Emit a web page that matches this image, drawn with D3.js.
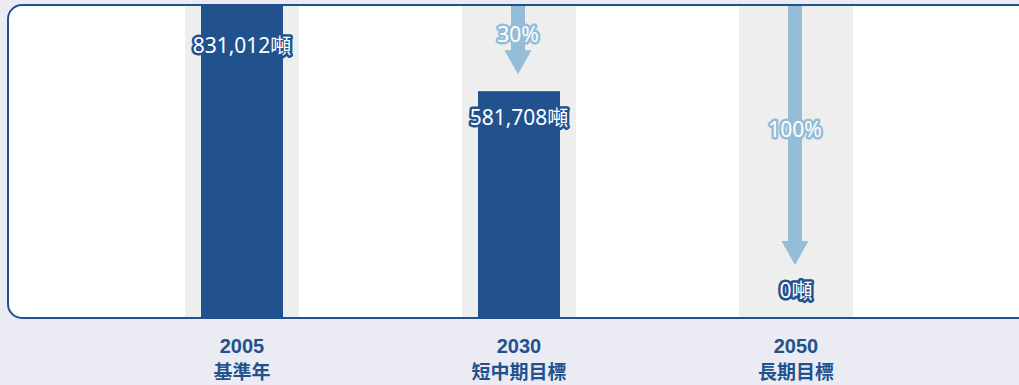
<!DOCTYPE html>
<html>
<head>
<meta charset="utf-8">
<script src="https://cdn.jsdelivr.net/npm/d3@7"></script>
<style>
  html, body { margin: 0; padding: 0; background: #ebebf4; }
  svg { display: block; }
  text { font-family: "Noto Sans", "Noto Sans CJK TC", sans-serif; }
</style>
</head>
<body>
<svg id="chart" width="1019" height="385"></svg>
<script>
// Emissions (tonnes) for the base year and the two targets
const years = ["2005", "2030", "2050"];
const yearNames = ["基準年", "短中期目標", "長期目標"];
const emissions = [831012, 581708, 0];
const valueLabels = ["831,012噸", "581,708噸", "0噸"];
// Reduction arrows: target year index and label
const reductionTargets = [1, 2];
const reductionLabels = ["30%", "100%"];

const W = 1019, H = 385;
const panel = { x: 8, y: 5, w: 1024, h: 313, r: 14 };
const baseY = 318;
const topY = -6;

const navy = "#21528e";
const lightBlue = "#95bdd8";
const bandGrey = "#eeeeee";

const svg = d3.select("#chart");

const x = d3.scaleBand().domain(years).range([103.5, 934.5]).paddingInner(0).paddingOuter(0);
const cx = d => x(d) + x.bandwidth() / 2;
const y = d3.scaleLinear().domain([0, d3.max(emissions)]).range([baseY, topY]);

const bandW = 114, barW = 82;
const shaftW = 14, headW = 27, headL = 24;
// Gap left between each arrow tip and its target mark
const arrowGap = { "2030": 17, "2050": 53 };
// Vertical offset of each value label from its bar top
const labelOffset = { "2005": 51, "2030": 26, "2050": -28 };

// Panel
svg.append("defs").append("clipPath").attr("id", "panelClip")
  .append("rect")
  .attr("x", panel.x).attr("y", panel.y)
  .attr("width", panel.w).attr("height", panel.h)
  .attr("rx", panel.r);

svg.append("rect")
  .attr("x", panel.x).attr("y", panel.y)
  .attr("width", panel.w).attr("height", panel.h)
  .attr("rx", panel.r)
  .attr("fill", "#ffffff");

const plot = svg.append("g").attr("clip-path", "url(#panelClip)");

// Grey category bands
plot.selectAll("rect.band").data(years).join("rect")
  .attr("class", "band")
  .attr("x", d => cx(d) - bandW / 2)
  .attr("y", y(d3.max(emissions)))
  .attr("width", bandW)
  .attr("height", d => baseY - y(d3.max(emissions)))
  .attr("fill", bandGrey);

// Bars
plot.selectAll("rect.bar").data(years).join("rect")
  .attr("class", "bar")
  .attr("x", d => cx(d) - barW / 2)
  .attr("y", (d, i) => y(emissions[i]))
  .attr("width", barW)
  .attr("height", (d, i) => baseY - y(emissions[i]))
  .attr("fill", navy);

// Reduction arrows from the base-year level down to each target
const arrows = reductionTargets.map((ti, k) => {
  const yr = years[ti];
  const y0 = y(emissions[0]);
  const y1 = y(emissions[ti]) - arrowGap[yr];
  return { yr, y0, y1, label: reductionLabels[k] };
});

plot.selectAll("path.arrow").data(arrows).join("path")
  .attr("class", "arrow")
  .attr("fill", lightBlue)
  .attr("d", a => {
    const c = cx(a.yr) - 1;
    const hs = a.y1 - headL;
    return `M${c - shaftW / 2},${a.y0} L${c + shaftW / 2},${a.y0} L${c + shaftW / 2},${hs}` +
           ` L${c + headW / 2},${hs} L${c},${a.y1} L${c - headW / 2},${hs} L${c - shaftW / 2},${hs} Z`;
  });

plot.selectAll("text.pct").data(arrows).join("text")
  .attr("class", "pct")
  .attr("x", a => cx(a.yr) - 1)
  .attr("y", a => (a.y0 + a.y1) / 2)
  .attr("dy", "0.36em")
  .attr("text-anchor", "middle")
  .attr("font-size", 21)
  .attr("fill", "#ffffff")
  .attr("stroke", lightBlue)
  .attr("stroke-width", 5)
  .attr("stroke-linejoin", "round")
  .attr("paint-order", "stroke")
  .text(a => a.label);

// Value labels
plot.selectAll("text.val").data(years).join("text")
  .attr("class", "val")
  .attr("x", d => cx(d))
  .attr("y", (d, i) => y(emissions[i]) + labelOffset[d])
  .attr("dy", "0.36em")
  .attr("text-anchor", "middle")
  .attr("font-size", 21)
  .attr("fill", "#ffffff")
  .attr("stroke", navy)
  .attr("stroke-width", 5)
  .attr("stroke-linejoin", "round")
  .attr("paint-order", "stroke")
  .text((d, i) => valueLabels[i]);

// Panel outline
svg.append("rect")
  .attr("x", panel.x).attr("y", panel.y)
  .attr("width", panel.w).attr("height", panel.h)
  .attr("rx", panel.r)
  .attr("fill", "none")
  .attr("stroke", navy)
  .attr("stroke-width", 2);

// Category labels below the panel: year on the first line, name on the second
const cat = svg.append("g").selectAll("text.cat").data(years).join("text")
  .attr("class", "cat")
  .attr("text-anchor", "middle")
  .attr("font-weight", "bold")
  .attr("fill", navy);
cat.append("tspan")
  .attr("x", d => cx(d))
  .attr("y", 353)
  .attr("font-size", 20)
  .attr("font-family", "Liberation Sans, Arial, sans-serif")
  .text(d => d);
cat.append("tspan")
  .attr("x", d => cx(d))
  .attr("y", 379.3)
  .attr("font-size", 19)
  .attr("font-family", "Noto Sans CJK TC")
  .text((d, i) => yearNames[i]);
</script>
</body>
</html>
